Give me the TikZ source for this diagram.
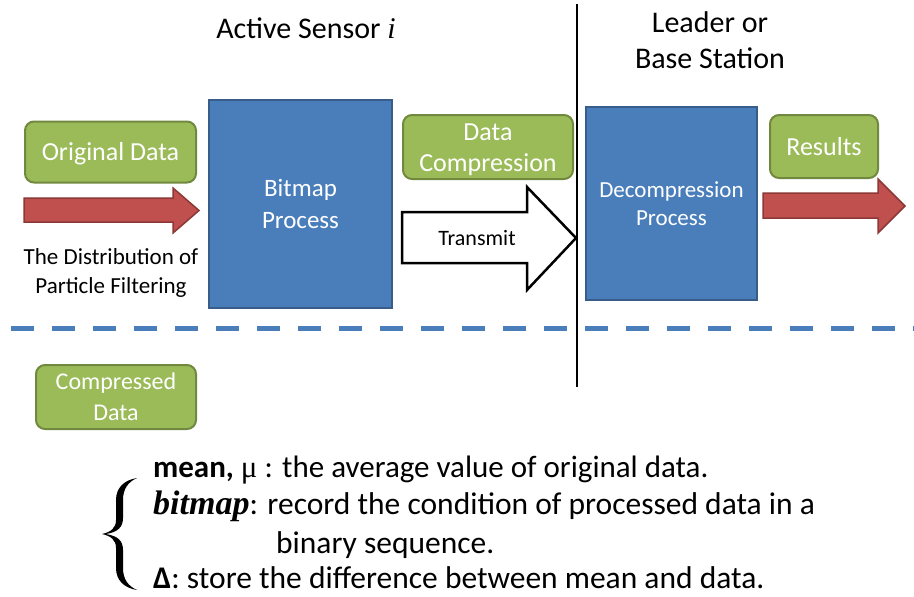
\documentclass[tikz,border=0pt]{standalone}
\usepackage{fontspec}
\setmainfont{Carlito}
\newfontfamily\serif{Liberation Serif}
\definecolor{gfill}{HTML}{9BBB59}
\definecolor{gborder}{HTML}{71893F}
\definecolor{bfill}{HTML}{4A7EBB}
\definecolor{bborder}{HTML}{385D8A}
\definecolor{rfill}{HTML}{C0504D}
\definecolor{rborder}{HTML}{8C3836}
\tikzset{
  greenbox/.style={draw=gborder, fill=gfill, line width=2pt, rounded corners=9pt,
    text=white, align=center, inner sep=0pt,
    font=\fontsize{26}{31}\selectfont},
  bluebox/.style={draw=bborder, fill=bfill, line width=2pt, text=white,
    align=center, inner sep=0pt},
  boxtext/.style={text=white, align=center, inner sep=0pt},
  redarrow/.style={draw=rborder, fill=rfill, line width=1.5pt, line join=miter},
  whitearrow/.style={draw=black, fill=white, line width=2.5pt, line join=miter},
  label/.style={text=black, inner sep=0pt},
  defline/.style={label, anchor=base west, font=\fontsize{31.5}{37}\selectfont},
}
\begin{document}
\begin{tikzpicture}[x=1pt,y=-1pt]
\useasboundingbox (0,0) rectangle (914,597);

% headings
\node[label, font=\fontsize{30}{36}\selectfont] (sensor) at (306,28)
  {Active Sensor {\serif\itshape i}};
\node[label, align=center, font=\fontsize{30}{36}\selectfont] (leader) at (710,40)
  {Leader or\\Base Station};

% divider between sensor and leader
\coordinate (divtop) at (577,4);
\coordinate (divbot) at (577,387);
\draw[line width=2.5pt] (divtop) -- (divbot);

% sensor side
\node[greenbox, minimum width=171pt, minimum height=61pt] (orig) at (110.5,152) {};
\node[boxtext, font=\fontsize{26}{31}\selectfont] at ([yshift=-1.5pt]orig.center) {Original Data};
\draw[redarrow] (24,198) -- (173,198) -- (173,188) -- (199,210.5) -- (173,233)
  -- (173,222) -- (24,222) -- cycle;
\node[label, align=center, font=\fontsize{23}{29}\selectfont] (dist) at (111,273)
  {The Distribution of\\Particle Filtering};
\node[bluebox, minimum width=183pt, minimum height=208pt,
  font=\fontsize{25}{32}\selectfont] (bitmap) at (300.5,204) {Bitmap\\Process};
\node[greenbox, minimum width=170pt, minimum height=64pt] (comp) at (488,147) {};
\node[boxtext, font=\fontsize{26}{31}\selectfont] at ([yshift=-3pt]comp.center)
  {Data\\Compression};
\draw[whitearrow] (402,212) -- (527,212) -- (527,187) -- (576,238) -- (527,290)
  -- (527,263) -- (402,263) -- cycle;
\node[label, font=\fontsize{22}{26}\selectfont] (transmit) at (477,238) {Transmit};

% leader side
\node[bluebox, minimum width=171pt, minimum height=193pt,
  font=\fontsize{23}{28}\selectfont] (decomp) at (671.5,203.5) {Decompression\\Process};
\node[greenbox, minimum width=108pt, minimum height=63pt] (results) at (824,146.5) {Results};
\draw[redarrow] (763,193) -- (878,193) -- (878,179) -- (905,206) -- (878,233)
  -- (878,218) -- (763,218) -- cycle;

% separator
\draw[bfill, line width=5pt, dash pattern=on 23pt off 18pt] (11,328) -- (914,328);

% legend
\node[greenbox, minimum width=160pt, minimum height=64pt,
  font=\fontsize{24}{30.5}\selectfont] (cdata) at (116,397) {Compressed\\Data};

% curly brace grouping the three definitions
\fill[black, line join=round]
  (137,478) .. controls (124,480) and (116,488) .. (116,500) -- (116,520)
  .. controls (116,528) and (111,532) .. (102,534)
  .. controls (111,536) and (116,540) .. (116,548) -- (116,568)
  .. controls (116,580) and (124,588) .. (137,590)
  .. controls (128,586) and (123,579) .. (123,568) -- (123,550)
  .. controls (123,541) and (118,536) .. (106,534)
  .. controls (118,532) and (123,527) .. (123,518) -- (123,500)
  .. controls (123,489) and (128,482) .. (137,478) -- cycle;

\node[defline, font=\fontsize{31}{37}\selectfont] (l1) at (153,477)
  {{\bfseries mean,} {\serif μ} : the average value of original data.};
\node[defline] (l2) at (153,514)
  {{\fontsize{34}{37}\serif\bfseries\itshape bitmap}: record the condition of processed data in a};
\node[defline] (l3) at (276,553) {binary sequence.};
\node[defline] (l4) at (153,588)
  {{\bfseries Δ}: store the difference between mean and data.};
\end{tikzpicture}
\end{document}
